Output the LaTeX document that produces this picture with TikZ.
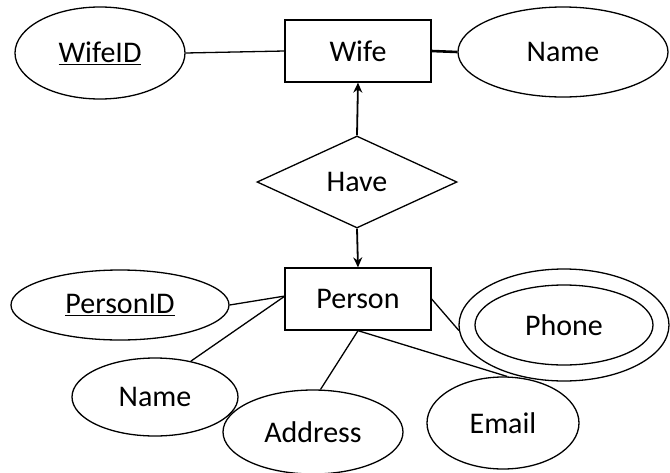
\documentclass[tikz,border=0pt]{standalone}
\usepackage{fontspec}
\setmainfont{Carlito}
\usetikzlibrary{shapes.geometric,arrows.meta}
\begin{document}
\begin{tikzpicture}[x=1pt,y=-1pt,
  every node/.style={font=\fontsize{30}{34}\selectfont},
  attr/.style={draw,ellipse,inner sep=0pt,line width=1.3pt},
  entity/.style={draw,rectangle,inner sep=0pt,line width=1.3pt,minimum width=146pt,minimum height=62pt},
  rel/.style={draw,diamond,inner sep=0pt,line width=1.3pt,minimum width=200pt,minimum height=92pt,aspect=2.17},
  conn/.style={line width=1.3pt},
  arr/.style={line width=1.8pt,-{Stealth[length=10pt,width=9pt]}}]
\useasboundingbox (0,0) rectangle (670,472);
\node[attr,minimum width=170pt,minimum height=92pt] (wifeid) at (100,53) {\underline{WifeID}};
\node[entity] (wife) at (358,51) {Wife};
\node[attr,minimum width=210pt,minimum height=90pt] (wname) at (563,52) {Name};
\node[rel] (have) at (357,182) {Have};
\node[entity] (person) at (358,299) {Person};
\node[attr,minimum width=218pt,minimum height=70pt] (pid) at (120,305) {\underline{PersonID}};
\node[attr,minimum width=210pt,minimum height=112pt] (phoneo) at (564,325) {};
\node[attr,minimum width=178pt,minimum height=80pt] (phone) at (564,325) {Phone};
\node[attr,minimum width=166pt,minimum height=78pt] (pname) at (155,397) {Name};
\node[attr,minimum width=180pt,minimum height=84pt] (addr) at (313,432) {Address};
\node[attr,minimum width=152pt,minimum height=92pt] (email) at (503,423) {Email};
\coordinate (pl) at (285,296);
\draw[conn] (wifeid.east) -- (wife.west);
\draw[line width=2.6pt] (wife.east) -- (wname.west);
\draw[arr] (have.north) -- (wife.south);
\draw[arr] (have.south) -- (person.north);
\draw[conn] (pid.east) -- (pl);
\draw[conn] (pname.45) -- (pl);
\draw[conn] (person.south) -- (addr.80);
\draw[conn] (person.south) -- (email.85);
\draw[conn] (person.east) -- (phoneo.183);
\end{tikzpicture}
\end{document}
